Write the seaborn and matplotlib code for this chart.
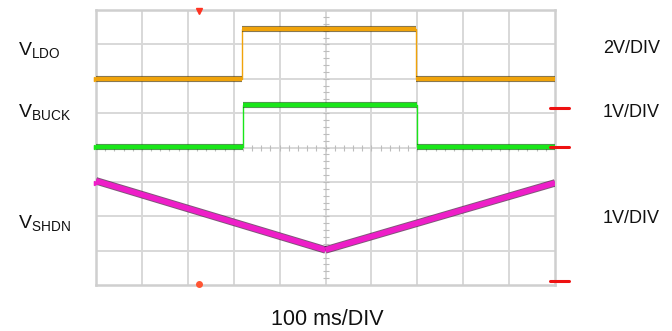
import numpy as np
import pandas as pd
import seaborn as sns
import matplotlib.pyplot as plt
import matplotlib.patheffects as pe

# time and level positions in screen divisions (10 x 8 grid)
ldo_t = [0, 3.17, 3.17, 6.97, 6.97, 10]
ldo_v = [5.99, 5.99, 7.45, 7.45, 5.99, 5.99]
buck_t = [0, 3.21, 3.21, 6.99, 6.99, 10]
buck_v = [4.01, 4.01, 5.24, 5.24, 4.01, 4.01]
shdn_t = [0, 5.0, 10]
shdn_v = [3.03, 1.02, 2.97]

trace_labels = ["V$_\\mathregular{LDO}$", "V$_\\mathregular{BUCK}$", "V$_\\mathregular{SHDN}$"]
scale_labels = ["2V/DIV", "1V/DIV", "1V/DIV"]
time_label = "100 ms/DIV"

ground_marks = [5.99, 4.01, 2.97]
ref_marks = [5.15, 4.01, 0.12]
trigger_t = 2.24

colors = ["#f0a30a", "#19e619", "#ee1ec8"]
edges = ["#4a3a10", "#0c6a0c", "#4a1040"]

sns.set_theme(style="white")
plt.rcParams["font.family"] = ["Liberation Sans", "DejaVu Sans"]
plt.rcParams["mathtext.default"] = "regular"

fig = plt.figure(figsize=(6.72, 3.31), dpi=100)
ax = fig.add_axes([96 / 672, 1 - 285 / 331, (555 - 96) / 672, (285 - 10) / 331])
ax.set_xlim(0, 10)
ax.set_ylim(0, 8)
ax.set_xticks([])
ax.set_yticks([])

# graticule
for x in range(1, 10):
    ax.axvline(x, color="#d8d8d8", lw=1.4, zorder=0)
for y in range(1, 8):
    ax.axhline(y, color="#d8d8d8", lw=1.4, zorder=0)
minor = np.arange(0.2, 10, 0.2)
ax.scatter(minor, np.full_like(minor, 4.0), marker="|", s=14, color="#bdbdbd", lw=0.8, zorder=0)
minor_y = np.arange(0.2, 8, 0.2)
ax.scatter(np.full_like(minor_y, 5.0), minor_y, marker="_", s=14, color="#bdbdbd", lw=0.8, zorder=0)
for side in ax.spines.values():
    side.set_color("#cfcfcf")
    side.set_linewidth(1.8)


def draw_trace(t, v, color, edge, width):
    # thin edges first, then thick horizontal levels
    sns.lineplot(x=t, y=v, ax=ax, color=color, lw=1.0, estimator=None, sort=False, zorder=2)
    for i in range(len(t) - 1):
        if t[i] == t[i + 1]:
            continue
        ln, = ax.plot(t[i:i + 2], v[i:i + 2], color=color, lw=width, solid_capstyle="butt", zorder=3)
        ln.set_path_effects([pe.Stroke(linewidth=width + 1.4, foreground=edge, alpha=0.7), pe.Normal()])


draw_trace(ldo_t, ldo_v, colors[0], edges[0], 3.0)
draw_trace(buck_t, buck_v, colors[1], edges[1], 3.0)
draw_trace(shdn_t, shdn_v, colors[2], edges[2], 4.0)

# channel ground markers at the left edge
for y, c in zip(ground_marks, colors):
    ax.plot([0], [y], marker=">", ms=3, color=c, clip_on=False, zorder=4)

# reference markers at the right edge
for y in ref_marks:
    ax.plot([9.9, 10.3], [y, y], color="#ee1111", lw=2.2, clip_on=False, zorder=4)

# trigger position markers
ax.plot([trigger_t], [7.97], marker="v", ms=4, color="#ff3322", clip_on=False, zorder=4)
ax.plot([trigger_t], [0.03], marker="o", ms=4, color="#ff5533", clip_on=False, zorder=4)

# labels
for lbl, yb in zip(trace_labels, [55, 117, 228]):
    fig.text(18 / 672, 1 - yb / 331, lbl, fontsize=14, va="baseline", ha="left", color="#111111")
for lbl, yb in zip(scale_labels, [53, 117, 223]):
    fig.text(603 / 672, 1 - yb / 331, lbl, fontsize=13, va="baseline", ha="left", color="#111111")
fig.text(327 / 672, 1 - 325 / 331, time_label, fontsize=15.5, va="baseline", ha="center", color="#111111")

fig.savefig("out.png", dpi=100)
